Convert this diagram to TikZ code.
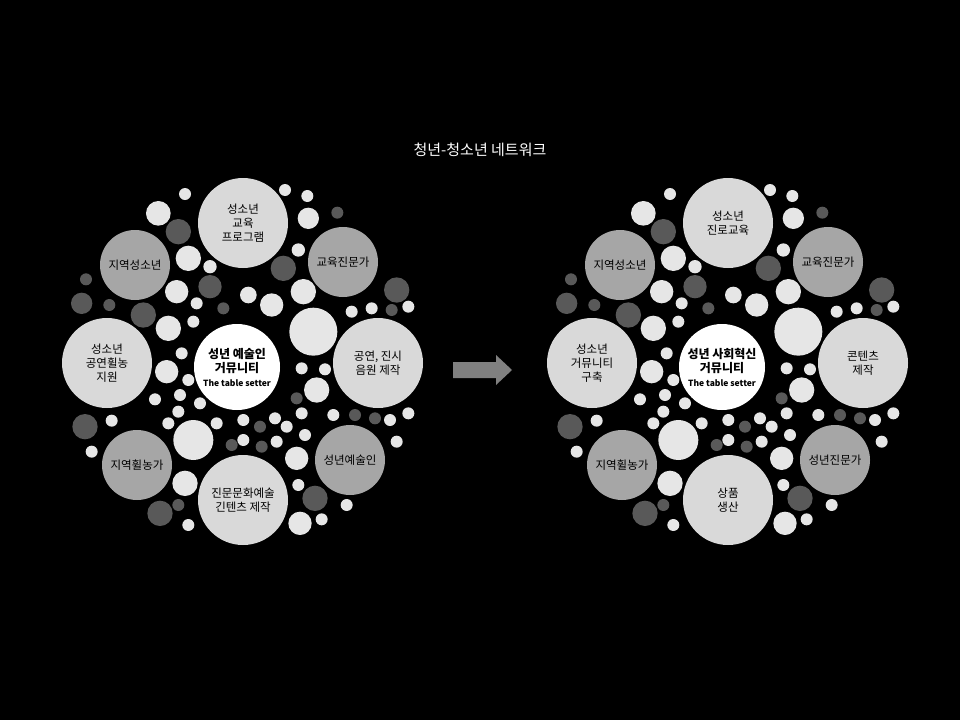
\documentclass[tikz,border=0pt]{standalone}
\usepackage{fontspec}
\setmainfont{Noto Sans CJK KR}
\definecolor{bigL}{HTML}{D9D9D9}
\definecolor{midG}{HTML}{A6A6A6}
\definecolor{smL}{HTML}{E6E6E6}
\definecolor{smD}{HTML}{595959}
\definecolor{arrG}{HTML}{808080}
\tikzset{
  lbl/.style={circle,inner sep=0pt,align=center,font=\fontsize{11.5}{14}\selectfont,text=black},
  bigc/.style={lbl,fill=bigL,minimum size=90pt},
  midc/.style={lbl,fill=midG,minimum size=70pt},
  cen/.style={lbl,fill=white,minimum size=86pt,font=\bfseries\fontsize{12}{14}\selectfont},
}
\newcommand{\smallcircles}{%
\foreach \zx/\zy/\r/\c in {375/72/18/smL,675/60/18/smL,742/78/18/smL,295/130/37/smL,745/145/32/smL,832/128/18/smD,355/185/38/smD,715/240/20/smL,385/265/38/smL,450/290/20/smL,670/295/38/smD,78/328/18/smD,350/365/35/smL,450/350/35/smD,565/375/25/smL,635/405/35/smL,730/365/38/smL,1010/360/38/smD,65/400/32/smD,148/405/18/smD,250/435/38/smD,410/400/18/smL,490/415/18/smD,875/425/18/smL,935/415/18/smL,995/420/18/smD,1045/410/18/smL,400/455/18/smL,325/475/38/smL,760/485/72/smL,365/550/18/smL,320/605/35/smL,385/630/18/smL,725/595/18/smL,795/598/18/smL,770/660/38/smL,285/688/18/smL,360/675/18/smL,420/700/18/smL,355/725/18/smL,710/685/18/smD,325/760/18/smL,470/760/18/smL,550/750/18/smL,600/770/18/smD,645/745/18/smL,680/770/18/smL,725/730/18/smL,735/795/18/smL,820/735/18/smL,885/735/18/smD,945/745/18/smD,990/750/18/smL,1045/730/18/smL,75/770/38/smD,155/752/18/smL,400/810/60/smL,515/825/18/smD,550/810/18/smL,605/830/18/smD,650/815/18/smL,710/865/35/smL,1010/815/18/smL,95/845/18/smL,375/940/38/smL,715/945/18/smL,765/985/38/smD,860/1005/18/smL,355/1005/18/smD,300/1030/38/smD,385/1065/18/smL,720/1060/35/smL,785/1048/18/smL}
  {\fill[\c] (\zx/3+60,\zy/3+170) circle (\r/3);}%
}
\begin{document}
\begin{tikzpicture}[x=1pt,y=-1pt]
\fill[black] (0,0) rectangle (960,720);
\node[text=white,font=\fontsize{15}{17}\selectfont] (title) at (480,150) {청년-청소년 네트워크};
% left cluster
\begin{scope}
\smallcircles
\node[bigc] (l1) at (243,223) {성소년\\교육\\프로그램};
\node[midc] (l2) at (343,262) {교육진문가};
\node[midc] (l3) at (135,265) {지역성소년};
\node[bigc] (l4) at (107,363) {성소년\\공연휠농\\지원};
\node[bigc] (l5) at (378,363) {공연, 진시\\음원 제작};
\node[cen]  (l0) at (237,367) {성년 예술인\\거뮤니티\\{\fontsize{8.5}{10}\selectfont The table setter}};
\node[midc] (l6) at (137,465) {지역휠농가};
\node[bigc] (l7) at (243,500) {진문문화예술\\긴텐츠 제작};
\node[midc] (l8) at (350,460) {성년예술인};
\end{scope}
% right cluster
\begin{scope}[xshift=485pt]
\smallcircles
\node[bigc] (r1) at (243,223) {성소년\\진로교육};
\node[midc] (r2) at (343,262) {교육진문가};
\node[midc] (r3) at (135,265) {지역성소년};
\node[bigc] (r4) at (107,363) {성소년\\거뮤니티\\구축};
\node[bigc] (r5) at (378,363) {콘텐츠\\제작};
\node[cen]  (r0) at (237,367) {성년 사회혁신\\거뮤니티\\{\fontsize{8.5}{10}\selectfont The table setter}};
\node[midc] (r6) at (137,465) {지역휠농가};
\node[bigc] (r7) at (243,500) {상품\\생산};
\node[midc] (r8) at (350,460) {성년진문가};
\end{scope}
\fill[arrG] (453,362) -- (496,362) -- (496,355) -- (512,370) -- (496,385) -- (496,378) -- (453,378) -- cycle;
\end{tikzpicture}
\end{document}
